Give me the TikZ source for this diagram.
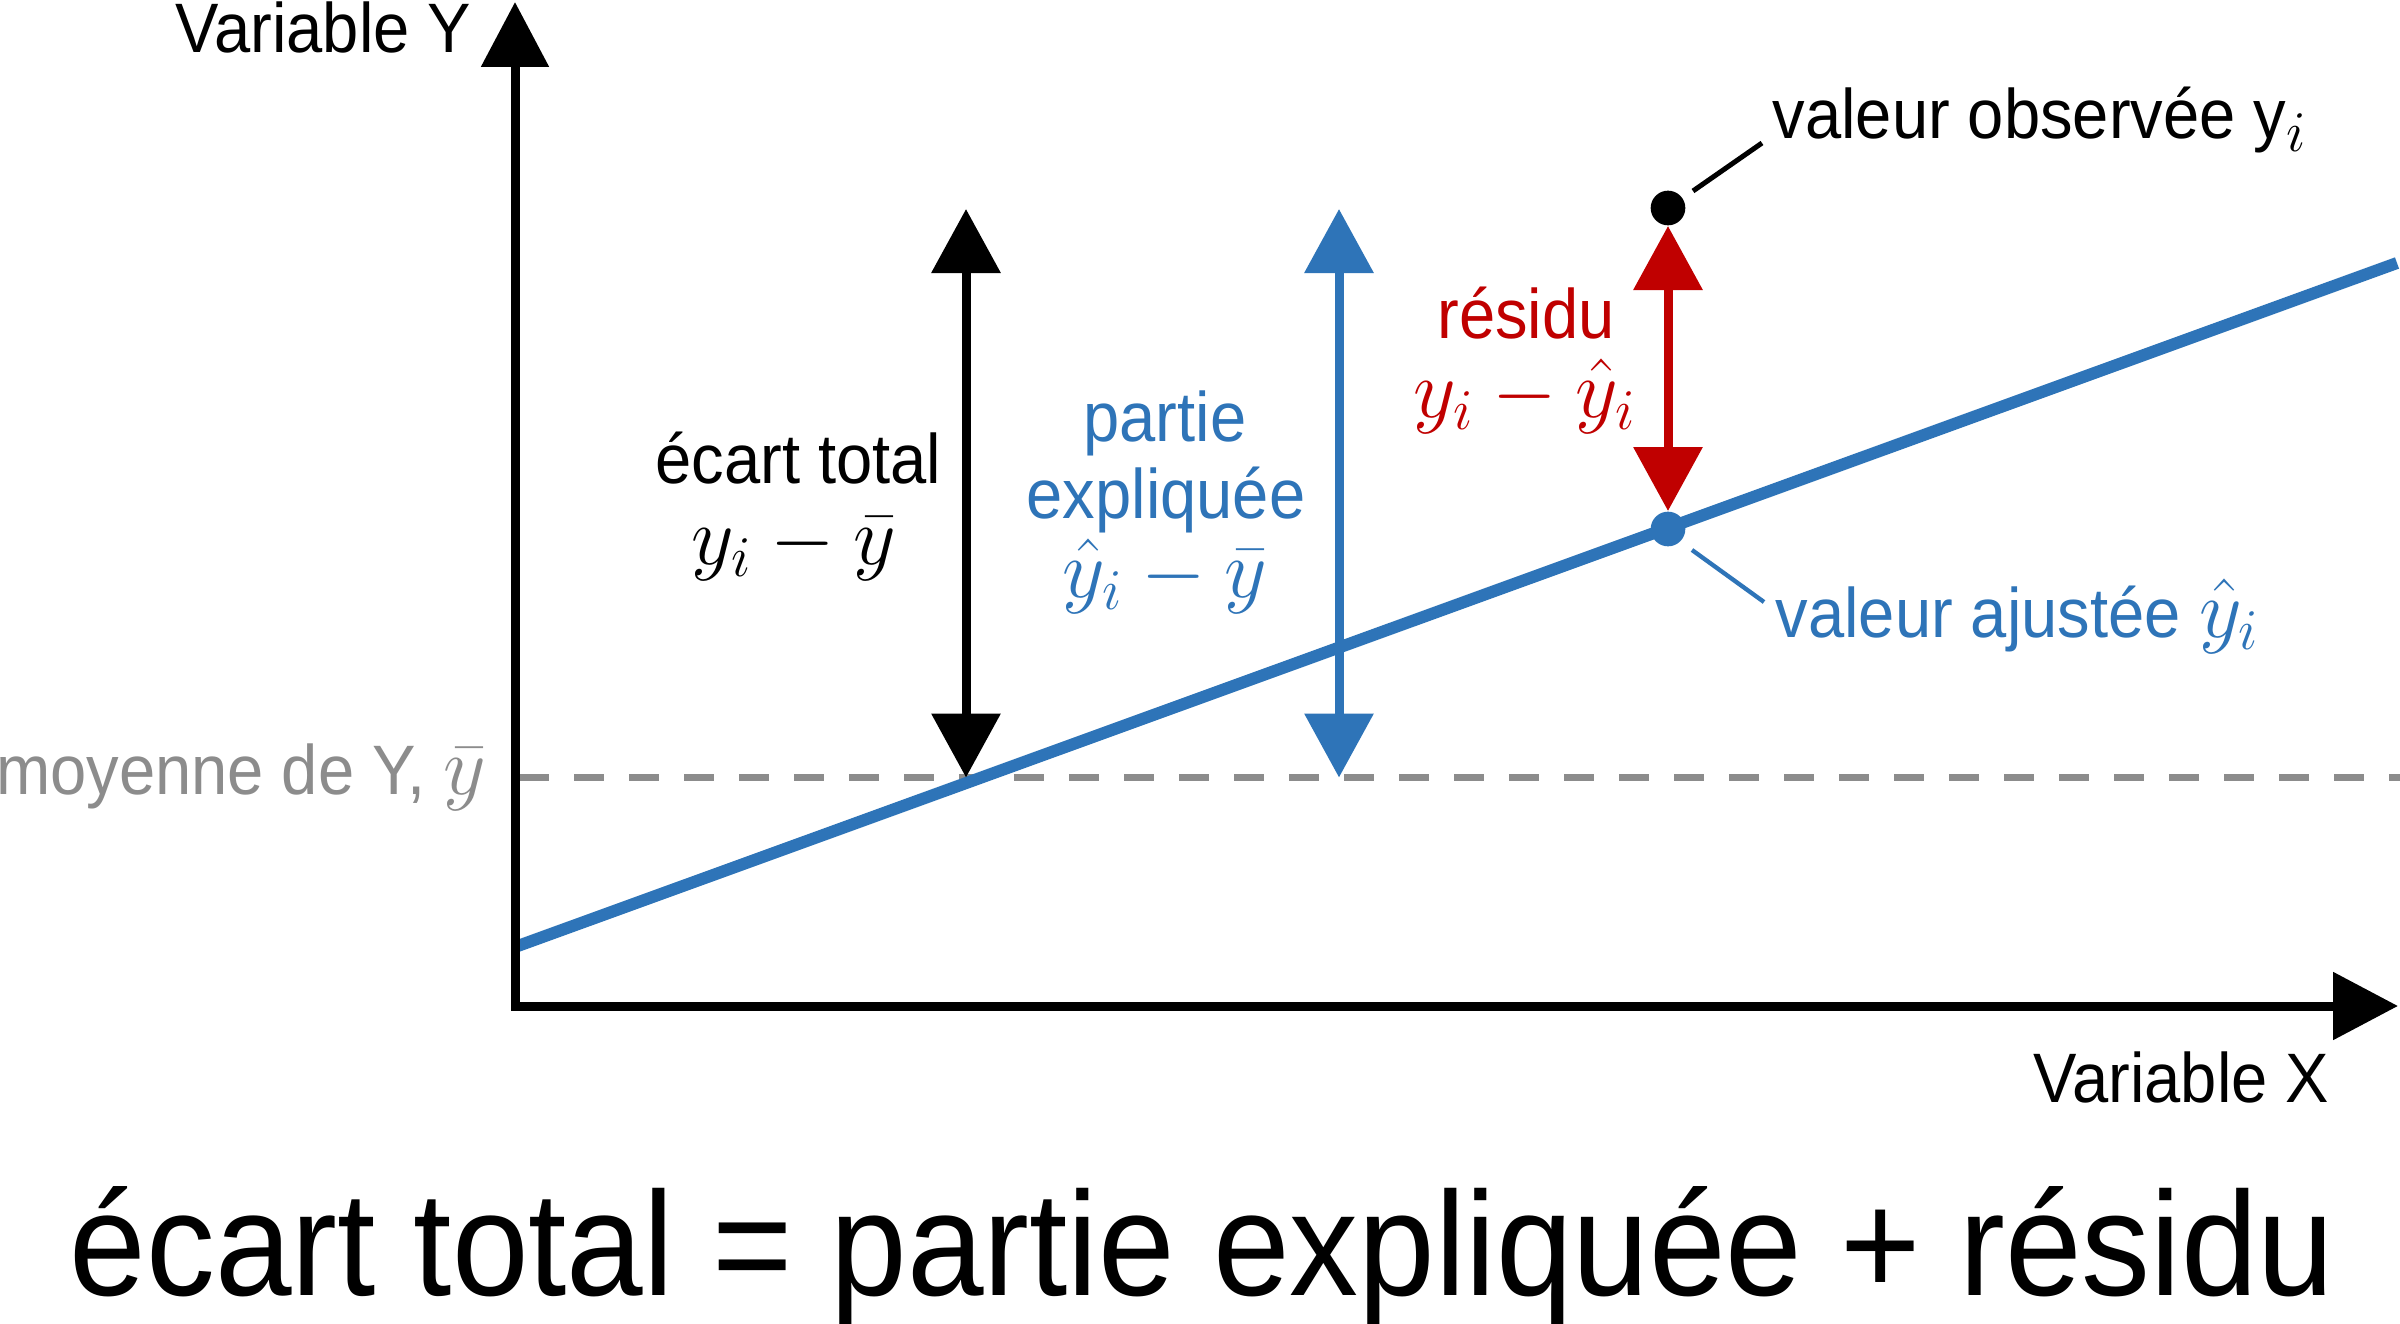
\documentclass[tikz,border=0pt]{standalone}
\usepackage{fontspec}
\setmainfont{Liberation Sans}[FakeStretch=0.93]
\usetikzlibrary{arrows.meta}
\DeclareMathSizes{24}{24}{18}{14}
\DeclareMathSizes{21}{21}{17}{13}
\definecolor{rblue}{RGB}{46,116,184}
\definecolor{rred}{RGB}{192,0,0}
\definecolor{rgray}{RGB}{140,140,140}
\tikzset{
  lbl/.style={font=\fontsize{21}{25}\selectfont, inner sep=0pt},
  mth/.style={font=\fontsize{24}{28}\selectfont, inner sep=0pt},
  bigtxt/.style={font=\fontsize{44.4}{50}\selectfont, inner sep=0pt},
  thickline/.style={line width=2.7pt},
  dbl/.style={thickline, {Triangle[length=19.2pt,width=20.2pt]}-{Triangle[length=19.2pt,width=20.2pt]}},
  dotnode/.style={circle, fill, inner sep=0pt, minimum size=10.4pt},
}
\begin{document}
\begin{tikzpicture}[x=0.3pt,y=-0.3pt]
\useasboundingbox (0,0) rectangle (2400,1324);
\fill[white] (0,0) rectangle (2400,1324);

% mean line
\coordinate (m1) at (519,777.5);
\coordinate (m2) at (2400,777.5);
\draw[rgray, line width=2.3pt, dash pattern=on 9pt off 7.5pt] (m1) -- (m2);
\node[lbl, text=rgray, anchor=base east] (meanlbl) at (487,794) {moyenne de Y, {\fontsize{24}{28}\selectfont$\bar{y}$}};

% regression line
\coordinate (r1) at (515,947);
\coordinate (r2) at (2397,263);
\draw[rblue, line width=3.6pt] (r1) -- (r2);

% axes
\coordinate (ytop) at (515,2);
\coordinate (orig) at (515,1006);
\coordinate (xend) at (2398,1006);
\draw[thickline, line join=miter, {Triangle[length=19.5pt,width=19.8pt]}-{Triangle[length=19.5pt,width=19.8pt]}] (ytop) -- (orig) -- (xend);
\node[lbl, anchor=base east] (ylbl) at (472,52) {Variable Y};
\node[lbl, anchor=base east] (xlbl) at (2330,1102) {Variable X};

% total deviation
\coordinate (bt) at (966,209);
\coordinate (bb) at (966,777.5);
\draw[dbl] (bt) -- (bb);
\node[lbl, anchor=base east] (ecart) at (942,483) {écart total};
\node[mth, anchor=base] (ecartm) at (794,564) {$y_i-\bar{y}$};

% explained
\coordinate (et) at (1339,209);
\coordinate (eb) at (1339,777.5);
\draw[dbl, rblue] (et) -- (eb);
\node[lbl, text=rblue, anchor=base] (p1) at (1165,441) {partie};
\node[lbl, text=rblue, anchor=base] (p2) at (1166,518) {expliquée};
\node[mth, text=rblue, anchor=base] (p3) at (1165,597) {$\hat{y}_i-\bar{y}$};

% points
\node[dotnode, fill=black] (obs) at (1668,208) {};
\node[dotnode, fill=rblue] (fit) at (1668,529) {};
\draw[dbl, rred] (obs.south) -- (fit.north);
\node[lbl, text=rred, anchor=base] (res1) at (1526,338) {résidu};
\node[mth, text=rred, anchor=base] (res2) at (1525,417) {$y_i-\hat{y}_i$};

% leaders
\coordinate (ol1) at (1693,191);
\coordinate (ol2) at (1762,143);
\draw[line width=1.5pt] (ol1) -- (ol2);
\node[lbl, anchor=base west] (obslbl) at (1772,138) {valeur observée y$_i$};
\coordinate (fl1) at (1692,550);
\coordinate (fl2) at (1764,602);
\draw[rblue, line width=1.3pt] (fl1) -- (fl2);
\node[lbl, text=rblue, anchor=base west] (fitlbl) at (1775,637) {valeur ajustée {\fontsize{24}{28}\selectfont$\hat{y}_i$}};

% bottom equation
\node[bigtxt, anchor=base west] (eq) at (69,1295) {écart total = partie expliquée + résidu};
\end{tikzpicture}
\end{document}
